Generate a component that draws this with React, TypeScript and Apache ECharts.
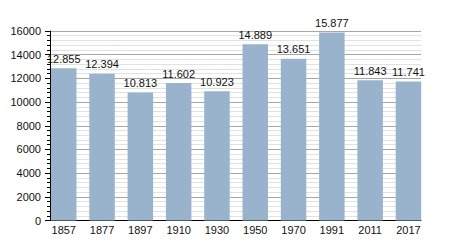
import React, { useEffect, useRef } from "react";
import * as echarts from "echarts";

const years = ["1857", "1877", "1897", "1910", "1930", "1950", "1970", "1991", "2011", "2017"];
const population = [12855, 12394, 10813, 11602, 10923, 14889, 13651, 15877, 11843, 11741];
const yMax = 16000;
const yStep = 2000;

const fmt = (v: number) => String(v).replace(/\B(?=(\d{3})+(?!\d))/g, ".");

const FONT = "'Liberation Sans', Arial, sans-serif";

export default function App() {
  const ref = useRef<HTMLDivElement>(null);
  useEffect(() => {
    if (!ref.current) return;
    const chart = echarts.init(ref.current, null, { renderer: "svg" });
    chart.setOption({
      animation: false,
      backgroundColor: "#ffffff",
      grid: [
        { left: 50, right: 29, top: 31, bottom: 29.5 },
        { left: 44.6, right: 22.4, top: 31, bottom: 29.5 },
      ],
      xAxis: [
        {
          type: "category",
          gridIndex: 0,
          data: years,
          axisLine: { show: true, lineStyle: { color: "#000", width: 1 } },
          axisTick: { show: false },
          axisLabel: { show: false },
          splitLine: { show: false },
        },
        {
          type: "category",
          gridIndex: 1,
          data: years,
          axisLine: { show: false },
          axisTick: { show: false },
          axisLabel: { show: true, margin: 4, color: "#111", fontSize: 11, fontFamily: FONT },
          splitLine: { show: false },
        },
      ],
      yAxis: [
        {
          type: "value",
          gridIndex: 0,
          min: 0,
          max: yMax,
          interval: yStep,
          axisLine: { show: true, lineStyle: { color: "#000", width: 1 } },
          axisTick: { show: true, length: 5, lineStyle: { color: "#000" } },
          minorTick: { show: true, splitNumber: 5, length: 3, lineStyle: { color: "#000" } },
          axisLabel: {
            margin: 9,
            color: "#111",
            fontSize: 11,
            fontFamily: FONT,
            formatter: (v: number) => String(v),
          },
          splitLine: { show: true, lineStyle: { color: "#a6a6a6", width: 1 } },
          minorSplitLine: { show: true, lineStyle: { color: "#e2e2e2", width: 1 } },
        },
        {
          type: "value",
          gridIndex: 1,
          min: 0,
          max: yMax,
          interval: yStep,
          show: false,
          splitLine: { show: false },
        },
      ],
      series: [
        {
          type: "bar",
          xAxisIndex: 1,
          yAxisIndex: 1,
          data: population,
          barWidth: 25.5,
          itemStyle: { color: "#99b3cd" },
          label: {
            show: true,
            position: "top",
            distance: 4,
            color: "#111",
            fontSize: 11,
            fontFamily: FONT,
            formatter: (p: any) => fmt(p.value),
          },
        },
      ],
    });
    return () => chart.dispose();
  }, []);
  return (
    <div
      ref={ref}
      style={{ position: "fixed", left: 0, top: 0, width: 450, height: 250 }}
    />
  );
}
